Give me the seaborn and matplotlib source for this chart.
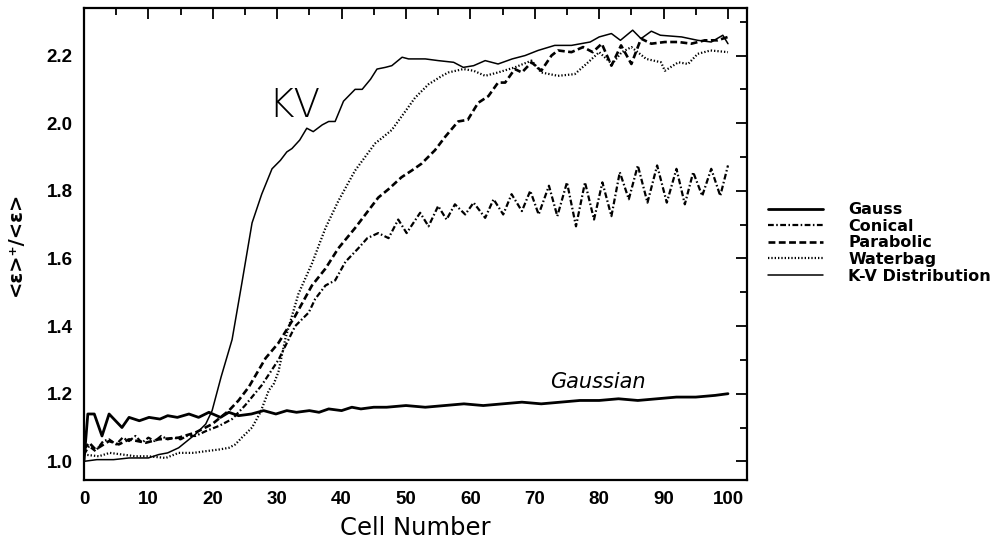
import matplotlib
matplotlib.use("Agg")
import matplotlib.pyplot as plt
from matplotlib.lines import Line2D
from matplotlib.ticker import MultipleLocator, FormatStrFormatter
import seaborn as sns
import pandas as pd

# ---------------- data ----------------
gauss_x = [0, 0.6, 1.6, 2.8, 3.9, 5.9, 7.0, 8.6, 10.1, 11.8, 13.0, 14.5, 16.3, 17.8, 19.4, 21.2,
           22.5, 24, 26, 27.9, 29.8, 31.5, 33, 35, 36.5, 38, 40, 41.6, 43, 45, 47, 50, 53, 56,
           59, 62, 65, 68, 71, 74, 77, 80, 83, 86, 89, 92, 95, 98, 100]
gauss_y = [1.0, 1.14, 1.14, 1.075, 1.14, 1.10, 1.13, 1.12, 1.13, 1.125, 1.135, 1.13, 1.14, 1.13,
           1.145, 1.13, 1.145, 1.135, 1.14, 1.15, 1.14, 1.15, 1.145, 1.15, 1.145, 1.155, 1.15,
           1.16, 1.155, 1.16, 1.16, 1.165, 1.16, 1.165, 1.17, 1.165, 1.17, 1.175, 1.17, 1.175,
           1.18, 1.18, 1.185, 1.18, 1.185, 1.19, 1.19, 1.195, 1.2]

conical_x = [0, 0.8, 1.8, 3, 3.9, 5, 6, 7, 8, 9, 10, 11, 12, 13, 14, 15, 16, 17.3, 19, 21, 23,
             25, 27.6, 30.2, 32.8, 34.9, 35.9, 37.5, 39, 40.6, 42.6, 44, 45.7, 47.3, 48.8, 50.1,
             52.2, 53.5, 55, 56.3, 57.6, 59.2, 60.5, 62.3, 63.6, 65.1, 66.4, 68, 69.3, 70.6,
             72.2, 73.5, 75, 76.4, 77.8, 79.2, 80.5, 81.9, 83.2, 84.6, 86, 87.5, 89, 90.5, 92,
             93.3, 94.6, 96, 97.4, 98.8, 100]
conical_y = [1.02, 1.045, 1.03, 1.06, 1.065, 1.05, 1.07, 1.06, 1.075, 1.055, 1.07, 1.06, 1.075,
             1.065, 1.07, 1.065, 1.075, 1.075, 1.09, 1.105, 1.125, 1.165, 1.225, 1.30, 1.40,
             1.44, 1.48, 1.52, 1.535, 1.59, 1.63, 1.66, 1.675, 1.66, 1.715, 1.675, 1.735, 1.695,
             1.755, 1.715, 1.76, 1.73, 1.765, 1.72, 1.775, 1.73, 1.79, 1.74, 1.80, 1.73, 1.815,
             1.725, 1.825, 1.695, 1.825, 1.715, 1.825, 1.725, 1.855, 1.775, 1.875, 1.765, 1.875,
             1.765, 1.865, 1.76, 1.855, 1.785, 1.865, 1.785, 1.875]

parabolic_x = [0, 0.8, 1.8, 3.9, 5.4, 7, 9.6, 11.6, 14.7, 17.3, 19.9, 22.5, 24, 25.6, 28.2, 30.2,
               32.8, 35.4, 37.5, 39.5, 42.1, 45.7, 47.3, 49.3, 50.9, 52.4, 54.5, 56.1, 58.1,
               59.6, 61.2, 62.8, 64.3, 65.4, 66.9, 68, 69.5, 71, 72.6, 73.6, 75.7, 77.5, 79,
               80.4, 81.9, 83.4, 85, 86.5, 88.1, 90.2, 92.3, 94.3, 96.4, 98.4, 100]
parabolic_y = [1.035, 1.055, 1.035, 1.06, 1.05, 1.065, 1.055, 1.065, 1.07, 1.085, 1.11, 1.15,
               1.18, 1.22, 1.305, 1.35, 1.43, 1.52, 1.57, 1.63, 1.69, 1.78, 1.805, 1.84, 1.86,
               1.88, 1.92, 1.96, 2.005, 2.01, 2.06, 2.08, 2.12, 2.12, 2.16, 2.15, 2.18, 2.155,
               2.2, 2.215, 2.21, 2.225, 2.21, 2.235, 2.17, 2.23, 2.175, 2.25, 2.235, 2.24, 2.24,
               2.235, 2.245, 2.245, 2.255]

waterbag_x = [0, 2.3, 4, 6, 8, 10, 12.7, 14.7, 17, 18.9, 21, 22.5, 23.5, 24.5, 26.1, 27.4, 28.7,
              29.5, 30.2, 31.3, 33.3, 35.4, 37.5, 39.5, 42.1, 45.2, 46.2, 47.8, 49.9, 51.4, 53.5,
              55.6, 56.6, 58.9, 60.5, 62.3, 64.3, 66.9, 69.5, 71, 73.6, 76.2, 78, 80, 82, 83.5,
              85, 87.3, 89.6, 90.2, 92.3, 93.8, 95.3, 97.3, 100]
waterbag_y = [1.02, 1.015, 1.025, 1.02, 1.015, 1.015, 1.01, 1.025, 1.025, 1.03, 1.035, 1.04,
              1.05, 1.07, 1.10, 1.145, 1.21, 1.23, 1.265, 1.365, 1.495, 1.585, 1.69, 1.77, 1.86,
              1.94, 1.955, 1.98, 2.035, 2.075, 2.115, 2.14, 2.15, 2.16, 2.155, 2.14, 2.15, 2.165,
              2.185, 2.15, 2.14, 2.145, 2.175, 2.21, 2.175, 2.21, 2.225, 2.19, 2.18, 2.155, 2.18,
              2.175, 2.205, 2.215, 2.21]

kv_x = [0, 2, 4.6, 7, 10, 11.6, 13, 14.7, 16, 17.3, 18.9, 19.9, 21.3, 23, 24.5, 26.1, 27.6, 29.2,
        30.5, 31.5, 32.3, 33.5, 34.6, 35.6, 37, 38, 39, 40.3, 42.1, 43.2, 44.5, 45.5, 46.8, 47.8,
        49.4, 50.4, 53, 55, 57.4, 58.9, 60.5, 62.3, 64.3, 66.5, 68.5, 70.5, 73.1, 75.7, 78.6, 80,
        81.9, 83.3, 85.2, 86.5, 88.1, 89.5, 92.8, 95.3, 97.4, 99.2, 100]
kv_y = [1.0, 1.005, 1.005, 1.01, 1.01, 1.02, 1.025, 1.04, 1.06, 1.08, 1.11, 1.15, 1.25, 1.36,
        1.525, 1.705, 1.79, 1.865, 1.89, 1.915, 1.925, 1.95, 1.985, 1.975, 1.995, 2.005, 2.005,
        2.065, 2.10, 2.10, 2.13, 2.16, 2.165, 2.17, 2.195, 2.19, 2.19, 2.185, 2.18, 2.165, 2.17,
        2.185, 2.175, 2.19, 2.20, 2.215, 2.23, 2.23, 2.24, 2.255, 2.265, 2.245, 2.275, 2.25,
        2.272, 2.26, 2.255, 2.245, 2.24, 2.26, 2.235]

series_names = ["Gauss", "Conical", "Parabolic", "Waterbag", "K-V Distribution"]
x_ticks = [0, 10, 20, 30, 40, 50, 60, 70, 80, 90, 100]
y_ticks = [1.0, 1.2, 1.4, 1.6, 1.8, 2.0, 2.2]

# ---------------- styling ----------------
sns.set_theme(style="white")
plt.rcParams["font.family"] = ["DejaVu Sans"]

styles = {
    "Gauss": dict(lw=2.0, ls="-"),
    "Conical": dict(lw=1.6, ls=(0, (2.6, 1.1, 0.7, 1.1))),
    "Parabolic": dict(lw=1.9, ls=(0, (2.6, 1.3))),
    "Waterbag": dict(lw=1.6, ls=(0, (0.6, 0.9))),
    "K-V Distribution": dict(lw=1.1, ls="-"),
}
data = {
    "Gauss": (gauss_x, gauss_y),
    "Conical": (conical_x, conical_y),
    "Parabolic": (parabolic_x, parabolic_y),
    "Waterbag": (waterbag_x, waterbag_y),
    "K-V Distribution": (kv_x, kv_y),
}

fig = plt.figure(figsize=(9.96, 5.46), dpi=100)
ax = fig.add_axes([0.0843, 0.121, 0.666, 0.864])

for name in series_names:
    xs, ys = data[name]
    df = pd.DataFrame({"cell": xs, "ratio": ys})
    st = styles[name]
    sns.lineplot(data=df, x="cell", y="ratio", ax=ax, color="black", linewidth=st["lw"],
                 linestyle=st["ls"], estimator=None, sort=False, legend=False)

ax.set_xlim(0, 103)
ax.set_ylim(0.945, 2.34)
ax.set_xticks(x_ticks)
ax.set_yticks(y_ticks)
ax.xaxis.set_minor_locator(MultipleLocator(5))
ax.yaxis.set_minor_locator(MultipleLocator(0.1))
ax.yaxis.set_major_formatter(FormatStrFormatter("%.1f"))
ax.tick_params(which="both", direction="in", top=True, right=True, color="black", width=1.3)
ax.tick_params(which="major", length=8, pad=8)
ax.tick_params(which="minor", length=5)
for sp in ax.spines.values():
    sp.set_color("black")
    sp.set_linewidth(1.6)

for lab in ax.get_xticklabels() + ax.get_yticklabels():
    lab.set_fontfamily(["Liberation Sans", "DejaVu Sans"])
    lab.set_fontweight("bold")
    lab.set_fontsize(13.5)
    lab.set_color("black")

ax.set_xlabel("Cell Number", fontsize=17.5, color="black", labelpad=6)
ax.set_ylabel("<ε>⁺/<ε>", fontsize=14, fontweight="bold", color="black", labelpad=16)

ax.text(32.6, 2.05, "KV", fontsize=28, fontweight="light", family=["DejaVu Sans"],
        ha="center", va="center", color="black")
ax.text(79.8, 1.235, "Gaussian", fontsize=15, style="italic", fontweight="light",
        family=["DejaVu Sans"], ha="center", va="center", color="black")

handles = [Line2D([], [], color="black", linewidth=styles[n]["lw"], linestyle=styles[n]["ls"])
           for n in series_names]
leg = fig.legend(handles, series_names, loc="upper left", bbox_to_anchor=(0.757, 0.656),
                 frameon=False, handlelength=3.4, handletextpad=1.6, labelspacing=0.1,
                 prop=dict(family=["DejaVu Sans"], weight="bold", size=11.5))
for t in leg.get_texts():
    t.set_color("black")

fig.savefig("out.png", dpi=100, facecolor="white")
